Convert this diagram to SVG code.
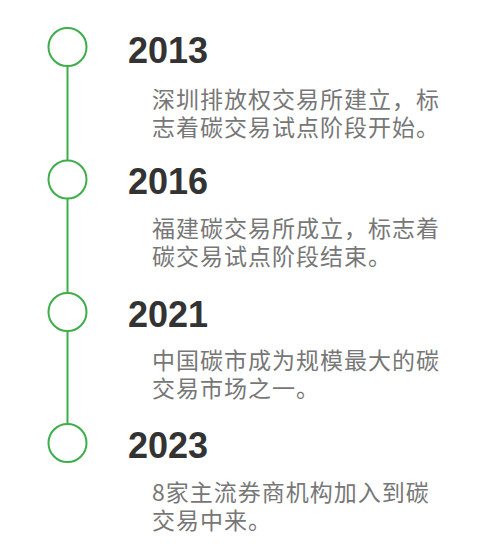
<svg xmlns="http://www.w3.org/2000/svg" width="502" height="546" viewBox="0 0 502 546">
<style>
.dot{fill:#fff;stroke:#3dae49;stroke-width:2}
.ln{stroke:#3dae49;stroke-width:2;fill:none}
.yr{font-family:"Liberation Sans",Arial,sans-serif;font-weight:bold;font-size:36px;fill:#333}
.ds{font-family:"Noto Sans CJK SC","Liberation Sans",sans-serif;font-size:23px;fill:#777;letter-spacing:1px}
</style>
<rect width="502" height="546" fill="#fff"/>
<g id="connectors">
<line class="ln" x1="67.5" y1="66" x2="67.5" y2="160.5"/>
<line class="ln" x1="67.5" y1="198.5" x2="67.5" y2="293"/>
<line class="ln" x1="67.5" y1="331" x2="67.5" y2="424"/>
</g>
<g id="n2013">
<circle class="dot" cx="67.5" cy="47" r="19"/>
<text class="yr" x="128" y="63">2013</text>
<text class="ds"><tspan x="152" y="108">深圳排放权交易所建立，标</tspan><tspan x="152" y="136">志着碳交易试点阶段开始。</tspan></text>
</g>
<g id="n2016">
<circle class="dot" cx="67.5" cy="179.5" r="19"/>
<text class="yr" x="128" y="193.5">2016</text>
<text class="ds"><tspan x="152" y="237">福建碳交易所成立，标志着</tspan><tspan x="152" y="265">碳交易试点阶段结束。</tspan></text>
</g>
<g id="n2021">
<circle class="dot" cx="67.5" cy="312" r="19"/>
<text class="yr" x="128" y="326.5">2021</text>
<text class="ds"><tspan x="152" y="369">中国碳市成为规模最大的碳</tspan><tspan x="152" y="397">交易市场之一。</tspan></text>
</g>
<g id="n2023">
<circle class="dot" cx="67.5" cy="443" r="19"/>
<text class="yr" x="128" y="458">2023</text>
<text class="ds"><tspan x="152" y="501">8家主流券商机构加入到碳</tspan><tspan x="152" y="529">交易中来。</tspan></text>
</g>
</svg>
